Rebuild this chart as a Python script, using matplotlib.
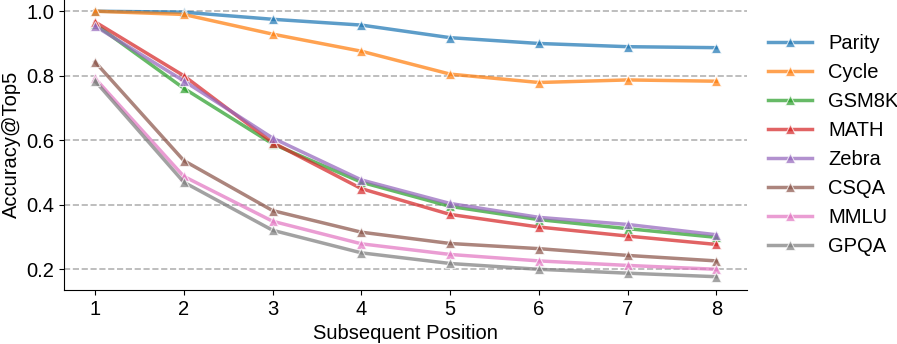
import numpy as np
import matplotlib
matplotlib.use("Agg")
from matplotlib import pyplot as plt

plt.rcParams['font.family'] = ['Liberation Sans', 'DejaVu Sans']

positions = [1, 2, 3, 4, 5, 6, 7, 8]
names = ["Parity", "Cycle", "GSM8K", "MATH", "Zebra", "CSQA", "MMLU", "GPQA"]
colors = ["tab:blue", "tab:orange", "tab:green", "tab:red",
          "tab:purple", "tab:brown", "tab:pink", "tab:gray"]

parity = [1.000, 0.997, 0.975, 0.957, 0.918, 0.900, 0.890, 0.887]
cycle = [1.000, 0.990, 0.929, 0.876, 0.805, 0.779, 0.787, 0.783]
gsm8k = [0.960, 0.761, 0.589, 0.470, 0.395, 0.354, 0.326, 0.299]
math_ = [0.967, 0.800, 0.593, 0.450, 0.370, 0.331, 0.303, 0.277]
zebra = [0.954, 0.784, 0.607, 0.477, 0.404, 0.361, 0.339, 0.307]
csqa = [0.843, 0.537, 0.382, 0.315, 0.280, 0.264, 0.243, 0.226]
mmlu = [0.792, 0.488, 0.349, 0.279, 0.246, 0.226, 0.212, 0.200]
gpqa = [0.784, 0.470, 0.321, 0.251, 0.218, 0.200, 0.188, 0.177]

series = [parity, cycle, gsm8k, math_, zebra, csqa, mmlu, gpqa]

fs = 14.5

fig = plt.figure(figsize=(8.97, 3.44), dpi=100)
ax = fig.add_axes([0.0713, 0.157, 0.762, 0.849])

for name, col, vals in zip(names, colors, series):
    ax.plot(positions, vals, color=col, lw=2.5, alpha=0.72, marker='^',
            markersize=7, markeredgecolor='white', markeredgewidth=0.8, label=name)

ax.set_xticks(positions)
ax.set_yticks([0.2, 0.4, 0.6, 0.8, 1.0])
ax.grid(axis='y', linestyle='--', color='gray', alpha=0.6, lw=1.2)
ax.set_axisbelow(True)
ax.spines['top'].set_visible(False)
ax.spines['right'].set_visible(False)
ax.tick_params(labelsize=fs)
ax.set_xlabel("Subsequent Position", fontsize=fs)
ax.set_ylabel("Accuracy@Top5", fontsize=fs)

ax.legend(loc='center left', bbox_to_anchor=(1.003, 0.496), frameon=False,
          fontsize=fs, handlelength=2.2, labelspacing=0.5)

fig.savefig("out.png", dpi=100)
